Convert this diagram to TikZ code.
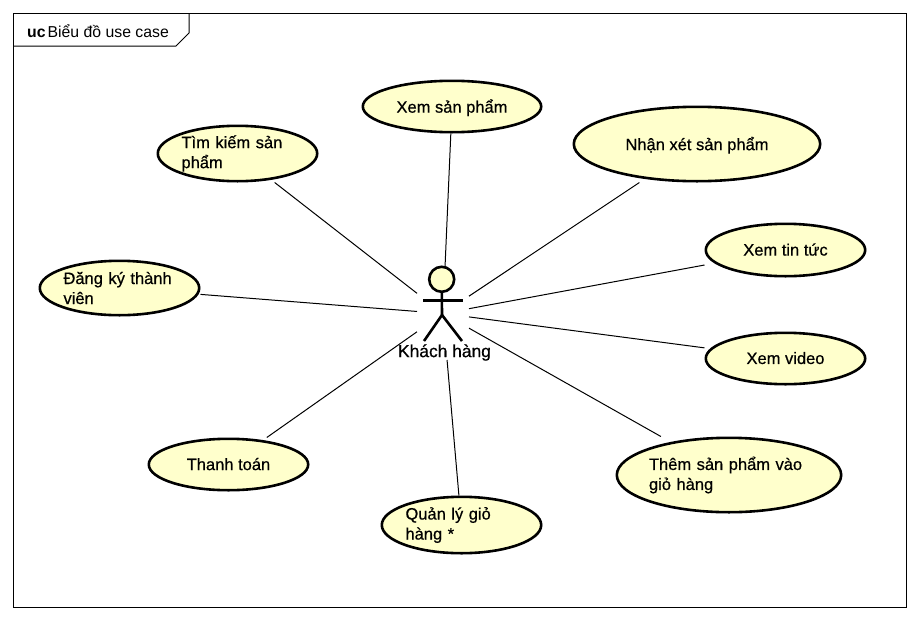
\documentclass[tikz,border=0pt]{standalone}
\usepackage{fontspec}
\setmainfont[FakeBold=0.6]{Liberation Sans}
\newfontfamily\titlefont{Liberation Sans}
\usetikzlibrary{positioning, calc}
\definecolor{ucfill}{HTML}{FFFFCC}
\tikzset{
    usecase node/.style={rectangle, inner sep=0pt, outer sep=0pt, font=\fontsize{16.5}{20}\selectfont,
        path picture={\path[draw=black, line width=2.6pt, fill=ucfill]
            let \p1=($(path picture bounding box.north east)-(path picture bounding box.center)$) in
            (path picture bounding box.center) ellipse [x radius=\x1-1.3pt, y radius=\y1-1.3pt];}},
    one line/.style={text depth=1pt},
    two line/.style={text width=112pt, align=left},
    frame line/.style={draw=black, line width=1pt},
    assoc line/.style={-, draw=black, line width=1pt},
    actor line/.style={draw=black, line width=2.6pt},
}

\begin{document}
\begin{tikzpicture}[x=1pt, y=-1pt]
    \useasboundingbox (0,0) rectangle (920,621);
    \path[fill=white] (0,0) rectangle (920,621);
    \draw[frame line] (13.5,13.5) rectangle (906.5,607);
    \draw[frame line] (189,13.5) -- (189,33) -- (176,46) -- (13.5,46);
    \node[anchor=west, inner sep=0pt, font=\titlefont\fontsize{15.8}{20}\selectfont] (title) at (27,31) {\textbf{uc}\kern2pt Biểu đồ use case};

    \node[usecase node, one line, minimum width=181pt, minimum height=54pt] (xemsp) at (452,106.5) {Xem sản phẩm};
    \node[usecase node, one line, minimum width=249pt, minimum height=77pt] (nhanxet) at (697,144) {Nhận xét sản phẩm};
    \node[usecase node, two line, minimum width=162pt, minimum height=58pt] (timkiem) at (237.5,153.5) {Tìm kiếm sản\\phẩm};
    \node[usecase node, one line, minimum width=162pt, minimum height=55pt] (tintuc) at (785.5,250) {Xem tin tức};
    \node[usecase node, two line, minimum width=162pt, minimum height=57pt] (dangky) at (119.5,288) {Đăng ký thành\\viên};
    \node[usecase node, one line, minimum width=162pt, minimum height=54pt] (video) at (785.5,358.5) {Xem video};
    \node[usecase node, one line, minimum width=162pt, minimum height=54pt] (thanhtoan) at (228.5,464.5) {Thanh toán};
    \node[usecase node, two line, text width=160pt, minimum width=227pt, minimum height=77pt] (themsp) at (729,475) {Thêm sản phẩm vào\\giỏ hàng};
    \node[usecase node, two line, minimum width=162pt, minimum height=59pt] (quanly) at (461.5,525) {Quản lý giỏ\\hàng *};

    \node[minimum width=52pt, minimum height=93pt, inner sep=0pt, outer sep=0pt] (khachhang) at (443,313.5) {};
    \node[circle, actor line, fill=ucfill, minimum size=25pt, inner sep=0pt] (head) at (441.7,279.3) {};
    \coordinate (hip) at (442,315);
    \coordinate (armleft) at (423,300.5);
    \coordinate (armright) at (462.5,300.5);
    \coordinate (footleft) at (424,341);
    \coordinate (footright) at (462,341);
    \draw[actor line] (head) -- (hip);
    \draw[actor line] (armleft) -- (armright);
    \draw[actor line] (footleft) -- (hip) -- (footright);
    \node[inner sep=0pt, font=\fontsize{17.4}{20}\selectfont] (khachlabel) at (444.5,352.5) {Khách hàng};

    \path[assoc line]
    (xemsp) edge (khachhang)
    (nhanxet) edge (khachhang)
    (timkiem) edge (khachhang)
    (tintuc) edge (khachhang)
    (dangky) edge (khachhang)
    (video) edge (khachhang)
    (thanhtoan) edge (khachhang)
    (themsp) edge (khachhang)
    (quanly) edge (khachhang);
\end{tikzpicture}
\end{document}
